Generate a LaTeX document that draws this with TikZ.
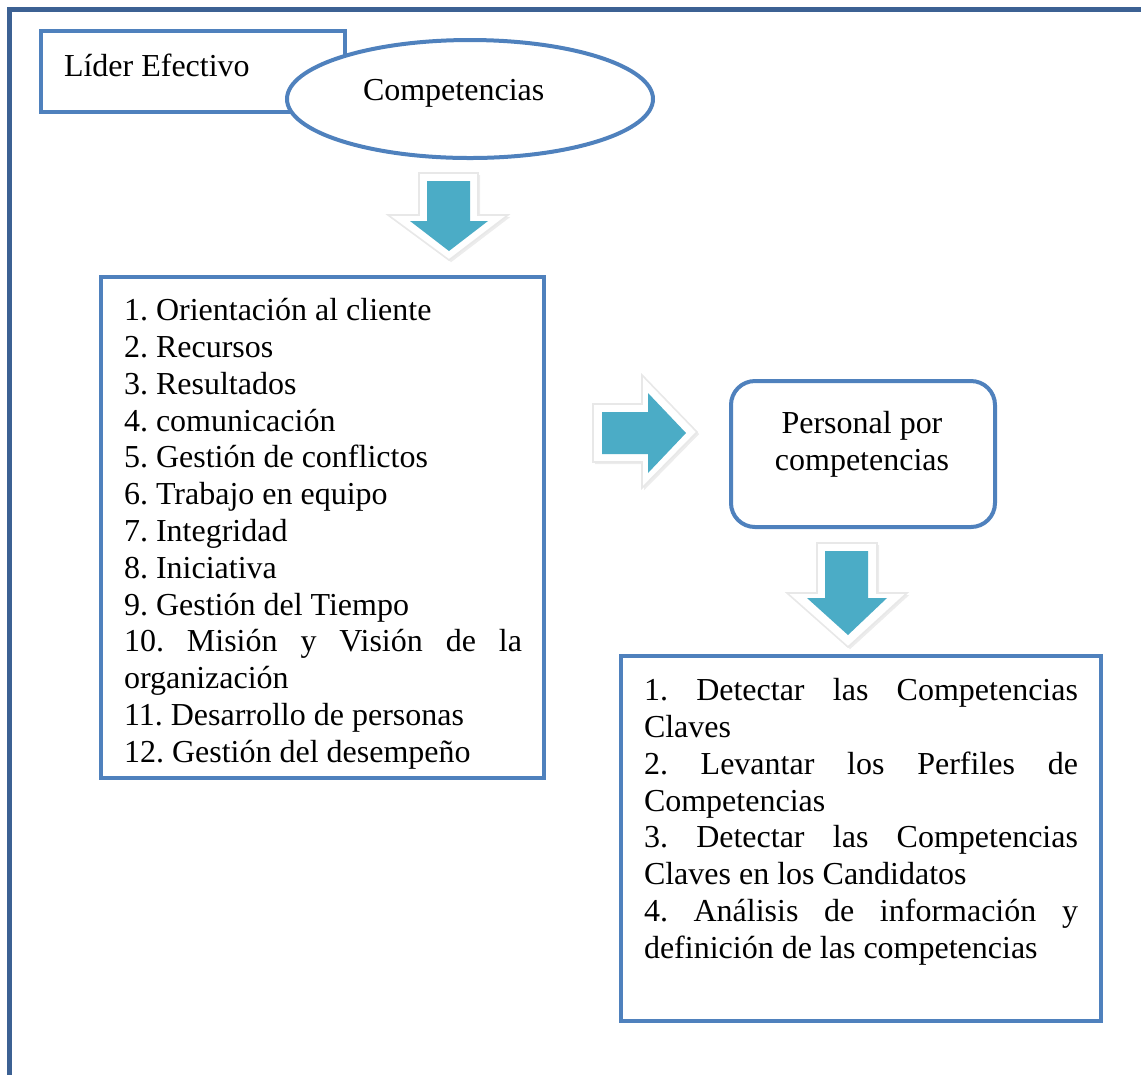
\documentclass[tikz,border=0pt]{standalone}
\usepackage{fontspec}
\setmainfont{Liberation Serif}
\usetikzlibrary{
  positioning, fit, shapes.geometric, shadows
}
\definecolor{boxblue}{HTML}{4F81BD}
\definecolor{frameblue}{HTML}{3C6193}
\definecolor{aqua}{HTML}{4BACC6}
\tolerance=9999
\hyphenpenalty=10000
\frenchspacing

\begin{document}
\begin{tikzpicture}[x=0.375pt, y=-0.375pt,
  every node/.style={inner sep=0pt, outer sep=0pt},
  txt/.style={font=\fontsize{12}{13.8}\selectfont},
  box/.style={draw=boxblue, line width=1.5pt, fill=white},
  halo/.style={fill=white, draw=black!9, line width=0.6pt,
    drop shadow={opacity=0.15, shadow xshift=0.8pt, shadow yshift=-0.8pt}},
  blockarrow/.style={fill=aqua}]
  \useasboundingbox (0,0) rectangle (1141,1074);
  % Outer frame, runs off the page at right and bottom
  \begin{scope}
    \clip (0,0) rectangle (1141,1074);
    \draw[frameblue, line width=1.9pt] (9.5,9.5) rectangle (1200,1200);
  \end{scope}
  % Title box and oval
  \node[box, fit={(41,31) (345,112)}] (lider) {};
  \node[txt, anchor=base west] (lidertxt) at (64,76) {Líder Efectivo};
  \node[box, ellipse, minimum width=137.25pt, minimum height=44.25pt] (comp) at (470,99) {};
  \node[txt, anchor=base west] (comptxt) at (363,100) {Competencias};
  % Down arrow under the oval
  \filldraw[halo] (419,173) -- (478,173) -- (478,215) -- (508,215) -- (449,260)
    -- (388,215) -- (419,215) -- cycle;
  \fill[blockarrow] (427,181) -- (470,181) -- (470,221) -- (488,221) -- (449,251)
    -- (410,221) -- (427,221) -- cycle;
  % List of competencies
  \node[box, fit={(101,277) (544,778)}] (lista) {};
  \node[txt, text width=149.25pt, align=justify, anchor=north west] (listatxt) at (124,295)
    {\strut 1. Orientación al cliente\\
     2. Recursos\\
     3. Resultados\\
     4. comunicación\\
     5. Gestión de conflictos\\
     6. Trabajo en equipo\\
     7. Integridad\\
     8. Iniciativa\\
     9. Gestión del Tiempo\\
     10. Misión y Visión de la organización\\
     11. Desarrollo de personas\\
     12. Gestión del desempeño};
  % Right arrow
  \filldraw[halo] (593,404) -- (642,404) -- (642,375) -- (697,432) -- (642,488)
    -- (642,462) -- (593,462) -- cycle;
  \fill[blockarrow] (602,412) -- (648,412) -- (648,393) -- (686,433) -- (648,473)
    -- (648,454) -- (602,454) -- cycle;
  % Rounded box
  \node[box, rounded corners=9pt, fit={(731,381) (995,527)}] (personal) {};
  \node[txt, align=center, anchor=north] (personaltxt) at (862,408)
    {\strut Personal por\\competencias};
  % Down arrow under the rounded box
  \filldraw[halo] (817,543) -- (877,543) -- (877,593) -- (907,593) -- (848,647)
    -- (787,593) -- (817,593) -- cycle;
  \fill[blockarrow] (825,551) -- (868,551) -- (868,598) -- (887,598) -- (848,635)
    -- (807,598) -- (825,598) -- cycle;
  % Steps box
  \node[box, fit={(621,656) (1101,1021)}] (pasos) {};
  \node[txt, text width=162.75pt, align=justify, anchor=north west] (pasostxt) at (644,675)
    {\strut 1. Detectar las Competencias Claves\\
     2. Levantar los Perfiles de Competencias\\
     3. Detectar las Competencias Claves en los Candidatos\\
     4. Análisis de información y definición de las competencias};
\end{tikzpicture}
\end{document}
